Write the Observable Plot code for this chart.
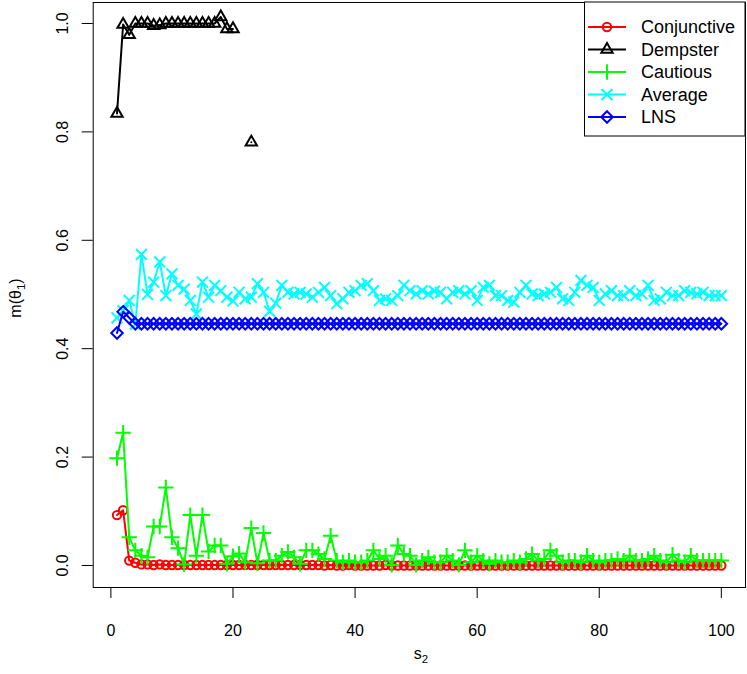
<!DOCTYPE html>
<html><head><meta charset="utf-8">
<script src="https://cdn.jsdelivr.net/npm/d3@7"></script>
<script src="https://cdn.jsdelivr.net/npm/@observablehq/plot@0.6"></script>
<style>body{margin:0;background:#fff}</style>
</head><body><div id="chart"></div>
<script>
// ---- data ----
const s2 = Array.from({length: 100}, (_, i) => i + 1);
const xTicks = [0, 20, 40, 60, 80, 100];
const yTicks = [0, 0.2, 0.4, 0.6, 0.8, 1.0];
const yTickLabels = ["0.0", "0.2", "0.4", "0.6", "0.8", "1.0"];
const seriesNames = ["Conjunctive", "Dempster", "Cautious", "Average", "LNS"];
const seriesColors = ["#FF0000", "#000000", "#00FF00", "#00FFFF", "#0000FF"];
const seriesSymbols = ["circle", "triangle2", "plus", "times", "diamond2"];

const conjunctive = [
  0.093, 0.102, 0.009, 0.005, 0.002, 0.002, 0.001, 0.002, 0.001, 0.001,
  0.001, 0.001, 0.001, 0.001, 0.001, 0.001, 0.001, 0.001, 0.001, 0.001,
  0.001, 0.001, 0.001, 0.001, 0.001, 0.001, 0.001, 0.001, 0.001, 0.001,
  0.001, 0.001, 0.001, 0.001, 0.000, 0.001, 0.000, 0.000, 0.001, 0.000,
  0.000, 0.000, 0.000, 0.000, 0.001, 0.000, 0.000, 0.000, 0.000, 0.000,
  0.000, 0.000, 0.000, 0.000, 0.000, 0.000, 0.000, 0.000, 0.000, 0.000,
  0.000, 0.000, 0.000, 0.000, 0.000, 0.000, 0.000, 0.000, 0.000, 0.000,
  0.000, 0.000, 0.000, 0.000, 0.000, 0.000, 0.000, 0.000, 0.000, 0.000,
  0.000, 0.000, 0.000, 0.000, 0.000, 0.000, 0.000, 0.000, 0.000, 0.000,
  0.000, 0.000, 0.000, 0.000, 0.000, 0.000, 0.000, 0.000, 0.000, 0.000
];
const dempster = [
  0.834, 0.998, 0.979, 1.000, 1.000, 1.000, 0.996, 0.997, 1.000, 1.000,
  1.000, 1.000, 1.000, 1.000, 1.000, 1.000, 1.000, 1.012, 0.990, 0.990,
  null, null, 0.781, null, null, null, null, null, null, null,
  null, null, null, null, null, null, null, null, null, null,
  null, null, null, null, null, null, null, null, null, null,
  null, null, null, null, null, null, null, null, null, null,
  null, null, null, null, null, null, null, null, null, null,
  null, null, null, null, null, null, null, null, null, null,
  null, null, null, null, null, null, null, null, null, null,
  null, null, null, null, null, null, null, null, null, null
];
const cautious = [
  0.198, 0.245, 0.052, 0.028, 0.018, 0.015, 0.072, 0.072, 0.144, 0.052,
  0.032, 0.002, 0.093, 0.018, 0.093, 0.026, 0.037, 0.037, 0.003, 0.017,
  0.022, 0.006, 0.069, 0.004, 0.060, 0.009, 0.009, 0.018, 0.025, 0.015,
  0.003, 0.028, 0.028, 0.021, 0.012, 0.055, 0.009, 0.006, 0.009, 0.006,
  0.006, 0.009, 0.028, 0.012, 0.018, 0.001, 0.037, 0.021, 0.018, 0.001,
  0.009, 0.015, 0.006, 0.006, 0.018, 0.009, 0.001, 0.028, 0.006, 0.018,
  0.009, 0.003, 0.009, 0.006, 0.006, 0.009, 0.006, 0.012, 0.021, 0.009,
  0.012, 0.028, 0.018, 0.006, 0.009, 0.009, 0.006, 0.018, 0.009, 0.006,
  0.009, 0.009, 0.012, 0.009, 0.018, 0.009, 0.009, 0.012, 0.018, 0.009,
  0.006, 0.020, 0.009, 0.006, 0.018, 0.009, 0.009, 0.009, 0.009, 0.009
];
const average = [
  0.457, 0.470, 0.489, 0.445, 0.574, 0.500, 0.523, 0.560, 0.498, 0.538,
  0.517, 0.510, 0.489, 0.464, 0.523, 0.495, 0.517, 0.507, 0.495, 0.488,
  0.504, 0.492, 0.495, 0.520, 0.504, 0.469, 0.484, 0.517, 0.504, 0.501,
  0.504, 0.501, 0.495, 0.504, 0.513, 0.498, 0.483, 0.492, 0.504, 0.507,
  0.517, 0.520, 0.507, 0.489, 0.492, 0.489, 0.498, 0.517, 0.507, 0.501,
  0.507, 0.501, 0.506, 0.504, 0.492, 0.504, 0.507, 0.501, 0.507, 0.489,
  0.513, 0.517, 0.498, 0.498, 0.489, 0.486, 0.504, 0.517, 0.501, 0.498,
  0.501, 0.504, 0.513, 0.492, 0.489, 0.504, 0.526, 0.517, 0.513, 0.489,
  0.501, 0.507, 0.498, 0.498, 0.507, 0.498, 0.501, 0.517, 0.489, 0.492,
  0.504, 0.498, 0.498, 0.507, 0.504, 0.501, 0.504, 0.498, 0.498, 0.498
];
const lns = [
  0.429, 0.468, 0.457, 0.446, 0.446, 0.446, 0.446, 0.446, 0.446, 0.446,
  0.446, 0.446, 0.446, 0.446, 0.446, 0.446, 0.446, 0.446, 0.446, 0.446,
  0.446, 0.446, 0.446, 0.446, 0.446, 0.446, 0.446, 0.446, 0.446, 0.446,
  0.446, 0.446, 0.446, 0.446, 0.446, 0.446, 0.446, 0.446, 0.446, 0.446,
  0.446, 0.446, 0.446, 0.446, 0.446, 0.446, 0.446, 0.446, 0.446, 0.446,
  0.446, 0.446, 0.446, 0.446, 0.446, 0.446, 0.446, 0.446, 0.446, 0.446,
  0.446, 0.446, 0.446, 0.446, 0.446, 0.446, 0.446, 0.446, 0.446, 0.446,
  0.446, 0.446, 0.446, 0.446, 0.446, 0.446, 0.446, 0.446, 0.446, 0.446,
  0.446, 0.446, 0.446, 0.446, 0.446, 0.446, 0.446, 0.446, 0.446, 0.446,
  0.446, 0.446, 0.446, 0.446, 0.446, 0.446, 0.446, 0.446, 0.446, 0.446
];
const seriesValues = [conjunctive, dempster, cautious, average, lns];

// ---- styles ----
const symbolR = {circle: 4.2, triangle2: 5.4, plus: 5.0, times: 5.0, diamond2: 5.2};
const FONT = "'Liberation Sans', Arial, Helvetica, sans-serif";

const marks = [];
seriesNames.forEach((name, k) => {
  const data = s2.map((x, i) => ({x, y: seriesValues[k][i]}));
  marks.push(Plot.line(data, {x: "x", y: "y", stroke: seriesColors[k], strokeWidth: 2}));
  marks.push(Plot.dot(data.filter(d => d.y != null), {
    x: "x", y: "y", stroke: seriesColors[k], fill: "none",
    symbol: seriesSymbols[k], r: symbolR[seriesSymbols[k]], strokeWidth: 2
  }));
});

const chart = Plot.plot({
  width: 747, height: 674,
  marginLeft: 92.7, marginRight: 2, marginTop: 2, marginBottom: 87,
  x: {domain: [-2.9, 103.96], label: null},
  y: {domain: [-0.0406, 1.0387], label: null},
  style: {fontFamily: FONT, fontSize: "16px", background: "white", color: "black", overflow: "visible"},
  marks: [
    ...marks,
    Plot.frame({stroke: "black", strokeWidth: 1}),
    Plot.axisX(xTicks, {tickSize: 11, tickPadding: 26, fontSize: 16, stroke: "black", label: null, tickFormat: d => String(d)}),
    Plot.axisY(yTicks, {tickSize: 11, tickPadding: 14, fontSize: 16, stroke: "black", label: null, tickRotate: -90,
      tickFormat: d => yTickLabels[yTicks.indexOf(d)]})
  ]
});
document.getElementById("chart").appendChild(chart);

// ---- axis titles and legend ----
const svg = d3.select(chart);
const yl = svg.append("text").attr("transform", "translate(21,298) rotate(-90)")
  .attr("text-anchor", "middle").attr("font-family", FONT).attr("font-size", 16).attr("fill", "black");
yl.append("tspan").text("m(θ");
yl.append("tspan").attr("font-size", 11.5).attr("dy", 4).text("1");
yl.append("tspan").attr("dy", -4).text(")");

const xl = svg.append("text").attr("x", 421).attr("y", 659)
  .attr("text-anchor", "middle").attr("font-family", FONT).attr("font-size", 16).attr("fill", "black");
xl.append("tspan").text("s");
xl.append("tspan").attr("font-size", 11.5).attr("dy", 4).text("2");

const lg = svg.append("g");
lg.append("rect").attr("x", 584.5).attr("y", 2).attr("width", 160.5).attr("height", 134)
  .attr("fill", "white").attr("stroke", "black").attr("stroke-width", 1);
seriesNames.forEach((name, k) => {
  const cy = 27 + k * 22.5;
  lg.append("line").attr("x1", 588).attr("x2", 626).attr("y1", cy).attr("y2", cy)
    .attr("stroke", seriesColors[k]).attr("stroke-width", 2);
  const sym = {circle: d3.symbolCircle, triangle2: d3.symbolTriangle2, plus: d3.symbolPlus, times: d3.symbolTimes, diamond2: d3.symbolDiamond2}[seriesSymbols[k]];
  const rr = symbolR[seriesSymbols[k]];
  lg.append("path").attr("d", d3.symbol(sym, Math.PI * rr * rr)())
    .attr("transform", `translate(607,${cy})`)
    .attr("fill", "none").attr("stroke", seriesColors[k]).attr("stroke-width", 2);
  lg.append("text").attr("x", 641).attr("y", cy).attr("dy", "0.36em")
    .attr("text-anchor", "start")
    .attr("font-family", FONT).attr("font-size", 18).attr("fill", "black").text(name);
});
</script>
</body></html>
